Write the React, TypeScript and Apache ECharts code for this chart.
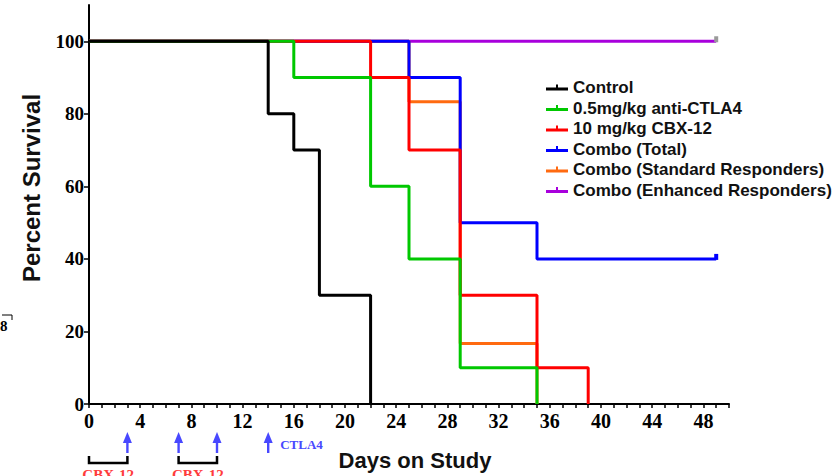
import React, { useEffect, useRef } from "react";
import * as echarts from "echarts";

// ---- data ----
const seriesNames = [
  "Control",
  "0.5mg/kg anti-CTLA4",
  "10 mg/kg CBX-12",
  "Combo (Total)",
  "Combo (Standard Responders)",
  "Combo (Enhanced Responders)",
];
const seriesColors = ["#000000", "#00c800", "#ff0000", "#0000ff", "#ff6a10", "#a800dc"];

const controlDays = [0, 14, 16, 18, 22];
const controlSurvival = [100, 80, 70, 30, 0];
const ctla4Days = [0, 16, 22, 25, 29, 35];
const ctla4Survival = [100, 90, 60, 40, 10, 0];
const cbxDays = [0, 22, 25, 29, 35, 39];
const cbxSurvival = [100, 90, 70, 30, 10, 0];
const comboTotalDays = [0, 25, 29, 35, 49];
const comboTotalSurvival = [100, 90, 50, 40, 40];
const comboStdDays = [0, 25, 29, 35];
const comboStdSurvival = [100, 83.3, 16.7, 0];
const comboEnhDays = [0, 49];
const comboEnhSurvival = [100, 100];

const allDays = [controlDays, ctla4Days, cbxDays, comboTotalDays, comboStdDays, comboEnhDays];
const allSurvival = [controlSurvival, ctla4Survival, cbxSurvival, comboTotalSurvival, comboStdSurvival, comboEnhSurvival];
const censoredLast = [false, false, false, true, false, true];
const censorColors = ["", "", "", "#0000ff", "", "#9a9a9a"];

const xTickLabels = [0, 4, 8, 12, 16, 20, 24, 28, 32, 36, 40, 44, 48];
const xTickDays = Array.from({ length: 51 }, (_, i) => i);
const yTickLabels = [0, 20, 40, 60, 80, 100];

const cbxDoseDays = [3, 7, 10];
const ctla4DoseDays = [14];
const cbxBrackets = [
  [0, 3],
  [7, 10],
];

const serif = "'Liberation Serif', 'Times New Roman', serif";
const sans = "'Liberation Sans', Arial, sans-serif";
const arrowColor = "#4848ff";

export default function App() {
  const ref = useRef<HTMLDivElement>(null);

  useEffect(() => {
    if (!ref.current) return;
    const chart = echarts.init(ref.current, null, { renderer: "svg" });
    const zOrder = [8, 7, 6, 5, 4, 3];
    const series = seriesNames.map((name, si) => ({
      name,
      type: "line",
      step: "end",
      z: zOrder[si],
      symbol: "rect",
      symbolSize: 0,
      showSymbol: true,
      itemStyle: { color: seriesColors[si] },
      lineStyle: { color: seriesColors[si], width: 3 },
      data: allDays[si].map((d, i) => {
        const isLast = i === allDays[si].length - 1;
        if (isLast && censoredLast[si]) {
          return {
            value: [d, allSurvival[si][i]],
            symbol: "rect",
            symbolSize: [4, 6],
            symbolOffset: [0, -2],
            itemStyle: { color: censorColors[si] },
          };
        }
        return { value: [d, allSurvival[si][i]] };
      }),
    }));

    chart.setOption({
      animation: false,
      backgroundColor: "#ffffff",
      grid: { left: 89, right: 104, top: 5, bottom: 72, containLabel: false },
      legend: {
        data: seriesNames,
        orient: "vertical",
        left: 541,
        top: 74,
        itemWidth: 22,
        itemHeight: 6,
        itemGap: 3.5,
        selectedMode: false,
        icon: "path://M0,3 L22,3 L22,6 L0,6 Z M10,0 L12,0 L12,3 L10,3 Z",
        textStyle: {
          fontFamily: sans,
          fontWeight: "bold",
          fontSize: 17,
          lineHeight: 15,
          color: "#111111",
        },
      },
      xAxis: {
        type: "value",
        min: 0,
        max: 50,
        interval: 1,
        name: "Days on Study",
        nameLocation: "middle",
        nameGap: 45,
        nameTextStyle: { fontFamily: sans, fontWeight: "bold", fontSize: 22, color: "#111", padding: [0, 0, 0, 12] },
        axisLine: { lineStyle: { color: "#000", width: 2 } },
        axisTick: { show: true, length: 4, customValues: xTickDays, lineStyle: { color: "#000", width: 1.5 } },
        axisLabel: {
          customValues: xTickLabels,
          fontFamily: serif,
          fontWeight: "bold",
          fontSize: 20,
          color: "#000",
          margin: 7,
        },
        splitLine: { show: false },
      },
      yAxis: {
        type: "value",
        min: 0,
        max: 110,
        interval: 20,
        axisLine: { show: true, lineStyle: { color: "#000", width: 2 } },
        axisTick: { show: true, length: 5, customValues: yTickLabels, lineStyle: { color: "#000", width: 1.5 } },
        axisLabel: {
          customValues: yTickLabels,
          fontFamily: serif,
          fontWeight: "bold",
          fontSize: 19,
          color: "#000",
          margin: 5,
        },
        splitLine: { show: false },
      },
      series,
    });

    // annotations positioned through the axis scale
    const px = (d: number) => chart.convertToPixel({ xAxisIndex: 0 }, d) as number;
    const graphics: any[] = [];
    const arrow = (x: number) => [
      {
        type: "polygon",
        shape: { points: [[x, 432], [x - 4.5, 443], [x + 4.5, 443]] },
        style: { fill: arrowColor },
      },
      {
        type: "rect",
        shape: { x: x - 1.2, y: 442, width: 2.4, height: 11 },
        style: { fill: arrowColor },
      },
    ];
    [...cbxDoseDays, ...ctla4DoseDays].forEach((d) => graphics.push(...arrow(px(d))));
    cbxBrackets.forEach(([a, b]) => {
      const x0 = px(a);
      const x1 = px(b);
      graphics.push({
        type: "polyline",
        shape: { points: [[x0, 456], [x0, 463], [x1, 463], [x1, 456]] },
        style: { stroke: "#000", lineWidth: 2.5, fill: "none" },
      });
      graphics.push({
        type: "text",
        x: (x0 + x1) / 2,
        y: 467,
        style: {
          text: "CBX-12",
          fill: "#ff3c3c",
          font: `bold 15px ${serif}`,
          align: "center",
          verticalAlign: "top",
        },
      });
    });
    ctla4DoseDays.forEach((d) => {
      graphics.push({
        type: "text",
        x: px(d) + 12,
        y: 444,
        style: {
          text: "CTLA4",
          fill: arrowColor,
          font: `bold 13px ${serif}`,
          align: "left",
          verticalAlign: "middle",
        },
      });
    });
    graphics.push({
      type: "text",
      x: 31,
      y: 188,
      rotation: Math.PI / 2,
      style: {
        text: "Percent Survival",
        fill: "#111",
        font: `bold 24px ${sans}`,
        align: "center",
        verticalAlign: "middle",
      },
    });
    // fragment of neighbouring panel at the left edge
    graphics.push({
      type: "polyline",
      shape: { points: [[2, 315], [12, 315], [12, 320]] },
      style: { stroke: "#000", lineWidth: 1, fill: "none" },
    });
    graphics.push({
      type: "text",
      x: 0,
      y: 326,
      style: { text: "8", fill: "#000", font: `bold 15px ${serif}`, align: "left", verticalAlign: "middle" },
    });
    chart.setOption({ graphic: graphics });

    return () => chart.dispose();
  }, []);

  return (
    <div
      ref={ref}
      style={{ position: "fixed", left: 0, top: 0, width: 833, height: 476, background: "#fff" }}
    />
  );
}
